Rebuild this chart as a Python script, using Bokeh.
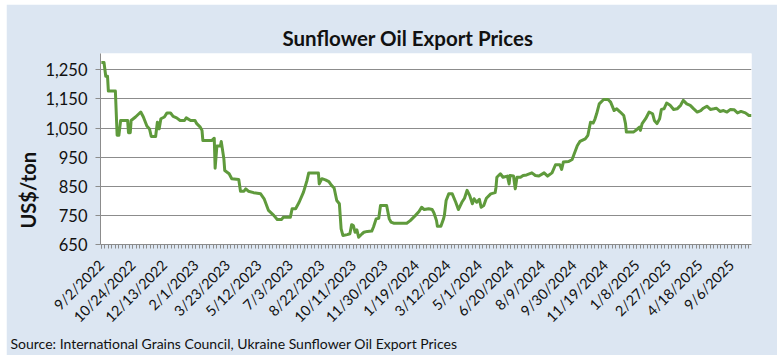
from math import pi
from bokeh.plotting import figure
from bokeh.models import Range1d, FixedTicker, NumeralTickFormatter, Title
from bokeh.embed import file_html
from bokeh.resources import INLINE

# ---- data (category index of business day, price US$/ton) ----
day_index = [0, 3, 5, 7, 8, 16, 18, 20, 22, 30, 31, 33, 34, 39, 45, 48, 52, 55, 57, 62,
             64, 66, 68, 72, 75, 79, 82, 86, 90, 95, 97, 102, 107, 109, 113, 115, 116, 126, 129, 130,
             132, 136, 137, 140, 141, 146, 149, 157, 159, 163, 165, 168, 174, 182, 186, 191, 197, 201, 206, 208,
             216, 218, 222, 226, 231, 235, 237, 248, 249, 252, 256, 260, 263, 266, 269, 272, 274, 276, 281, 284,
             286, 288, 290, 292, 294, 298, 300, 304, 309, 311, 314, 317, 319, 326, 329, 331, 334, 349, 353, 359,
             363, 366, 369, 374, 378, 380, 383, 384, 388, 391, 392, 394, 397, 401, 405, 408, 412, 415, 418, 421,
             424, 426, 429, 432, 434, 437, 440, 445, 450, 451, 452, 456, 459, 464, 466, 467, 471, 473, 475, 479,
             482, 486, 492, 496, 500, 506, 510, 515, 519, 524, 526, 528, 534, 538, 540, 544, 547, 553, 556, 559,
             562, 564, 566, 569, 574, 579, 582, 586, 589, 593, 597, 599, 600, 608, 612, 615, 616, 618, 622, 626,
             630, 632, 635, 638, 640, 643, 646, 650, 654, 658, 662, 665, 667, 669, 673, 677, 681, 685, 688, 692,
             696, 700, 703, 707, 711, 715, 719, 723, 727, 731, 736, 740, 743]
price = [1275, 1275, 1228, 1228, 1177, 1177, 1025, 1025, 1076, 1076, 1034, 1034, 1076, 1088, 1105, 1088, 1057, 1047, 1021, 1021,
         1070, 1047, 1082, 1088, 1102, 1102, 1090, 1085, 1076, 1076, 1085, 1076, 1076, 1065, 1053, 1042, 1007, 1007, 1015, 912,
         988, 988, 1004, 944, 904, 893, 876, 873, 833, 833, 841, 833, 828, 824, 807, 767, 750, 736, 736, 744,
         744, 773, 773, 795, 830, 870, 896, 896, 858, 876, 872, 866, 853, 844, 801, 790, 704, 681, 684, 687,
         718, 715, 692, 700, 675, 687, 692, 695, 696, 710, 738, 740, 784, 784, 738, 727, 723, 723, 732, 750,
         763, 778, 770, 773, 770, 759, 732, 713, 713, 738, 750, 801, 824, 824, 795, 770, 795, 809, 836, 818,
         790, 807, 795, 805, 778, 784, 809, 824, 828, 847, 881, 893, 881, 885, 858, 887, 885, 841, 881, 881,
         887, 889, 896, 887, 885, 896, 885, 896, 924, 924, 908, 933, 935, 942, 958, 990, 1004, 1013, 1025, 1070,
         1067, 1080, 1099, 1133, 1148, 1148, 1139, 1110, 1116, 1105, 1093, 1065, 1036, 1036, 1045, 1053, 1042, 1065, 1082, 1105,
         1099, 1076, 1065, 1082, 1114, 1116, 1136, 1128, 1114, 1116, 1128, 1145, 1139, 1133, 1128, 1116, 1105, 1110, 1118, 1125,
         1114, 1116, 1118, 1107, 1110, 1105, 1114, 1113, 1102, 1107, 1102, 1093, 1093]

label_index = [0, 36, 72, 108, 144, 180, 216, 252, 288, 324, 360, 396, 432, 468, 504, 540,
               576, 612, 648, 684, 720]
date_labels = ["9/2/2022", "10/24/2022", "12/13/2022", "2/1/2023", "3/23/2023", "5/12/2023",
               "7/3/2023", "8/22/2023", "10/11/2023", "11/30/2023", "1/19/2024", "3/12/2024",
               "5/1/2024", "6/20/2024", "8/9/2024", "9/30/2024", "11/19/2024", "1/8/2025",
               "2/27/2025", "4/18/2025", "9/6/2025"]
minor_tick_index = list(range(0, 744, 4))
y_ticks = [650, 750, 850, 950, 1050, 1150, 1250]

title_text = "Sunflower Oil Export Prices"
y_title = "US$/ton"
source_text = "Source: International Grains Council, Ukraine Sunflower Oil Export Prices"

BG = "#DCE6F2"
GRID = "#8C8C8C"
LINE = "#5F9A3C"
FONT = "Lato"
TXT = "#111111"

p = figure(width=771, height=351, output_backend="svg", toolbar_location=None,
           x_range=Range1d(-1, 743), y_range=Range1d(650, 1306),
           min_border_left=94, min_border_right=26, min_border_top=49, min_border_bottom=111,
           title=title_text)
p.margin = (4, 0, 0, 6)
p.background_fill_color = "white"
p.border_fill_color = BG
p.outline_line_color = None

p.title.align = "left"
p.title.offset = 182
p.title.text_font = FONT
p.title.text_font_style = "bold"
p.title.text_font_size = "20.5px"
p.title.text_color = TXT
p.title.standoff = 7

p.line(day_index, price, line_color=LINE, line_width=3, line_join="round")

# y axis
p.yaxis.ticker = FixedTicker(ticks=y_ticks)
p.yaxis.formatter = NumeralTickFormatter(format="0,0")
p.yaxis.axis_line_color = GRID
p.yaxis.major_tick_line_color = GRID
p.yaxis.major_tick_out = 5
p.yaxis.major_tick_in = 0
p.yaxis.minor_tick_line_color = None
p.yaxis.major_label_text_font = FONT
p.yaxis.major_label_text_font_size = "16.5px"
p.yaxis.major_label_text_color = TXT
p.yaxis.major_label_standoff = 8

# x axis
p.xaxis.ticker = FixedTicker(ticks=label_index, minor_ticks=minor_tick_index)
p.xaxis.major_label_overrides = {i: s for i, s in zip(label_index, date_labels)}
p.xaxis.major_label_orientation = pi / 4
p.xaxis.axis_line_color = GRID
p.xaxis.major_tick_line_color = GRID
p.xaxis.minor_tick_line_color = GRID
p.xaxis.major_tick_out = 4
p.xaxis.major_tick_in = 0
p.xaxis.minor_tick_out = 4
p.xaxis.minor_tick_in = 0
p.xaxis.major_label_text_font = FONT
p.xaxis.major_label_text_font_size = "14.5px"
p.xaxis.major_label_text_color = TXT
p.xaxis.major_label_standoff = 14

p.xgrid.grid_line_color = None
p.ygrid.ticker = FixedTicker(ticks=y_ticks)
p.ygrid.grid_line_color = GRID
p.ygrid.grid_line_width = 1

p.add_layout(Title(text=y_title, align="left", offset=16, standoff=5,
                   text_font=FONT, text_font_style="bold", text_font_size="20px",
                   text_color=TXT), "left")
p.add_layout(Title(text=source_text, align="left", offset=-90, standoff=-4,
                   text_font=FONT, text_font_style="normal", text_font_size="14px",
                   text_color=TXT), "below")

open("out.html", "w").write(file_html(p, INLINE))
